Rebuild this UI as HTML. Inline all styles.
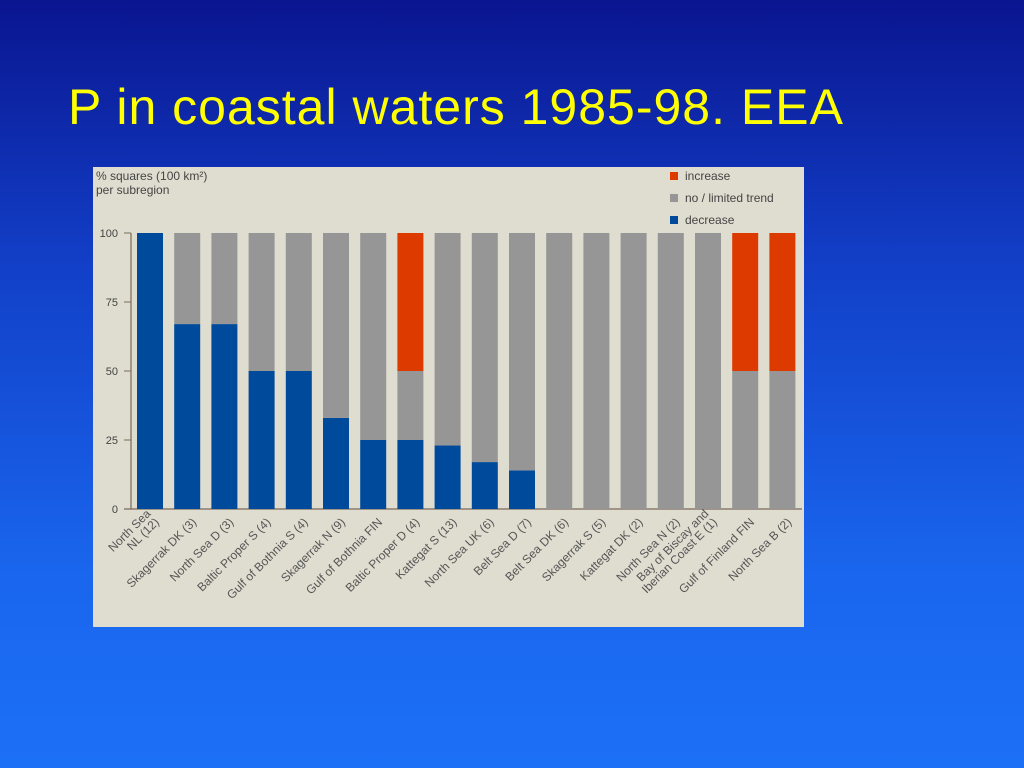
<!DOCTYPE html>
<html><head><meta charset="utf-8"><style>
html,body{margin:0;padding:0}
body{width:1024px;height:768px;overflow:hidden;background:linear-gradient(#0a1590 0%,#1240c8 35%,#1a66ee 75%,#1c70f6 100%);font-family:"Liberation Sans",sans-serif;position:relative}
#title{position:absolute;left:68px;top:78px;color:#ffff00;font-size:50px;white-space:nowrap;letter-spacing:1px}
</style></head><body>
<div id="title">P in coastal waters 1985-98. EEA</div>
<svg id="chart" width="1024" height="768" style="position:absolute;left:0;top:0">
<rect x="93" y="167" width="711" height="460" fill="#dfddd0"/>
<text x="96" y="180" font-size="12" fill="#444">% squares (100 km²)</text>
<text x="96" y="194" font-size="12" fill="#444">per subregion</text>
<g id="legend"></g>
<g id="axes"></g><g id="bars"></g><g id="labels"></g>
</svg>
<script>
const categories=["North Sea|NL (12)","Skagerrak DK (3)","North Sea D (3)","Baltic Proper S (4)","Gulf of Bothnia S (4)","Skagerrak N (9)","Gulf of Bothnia FIN","Baltic Proper D (4)","Kattegat S (13)","North Sea UK (6)","Belt Sea D (7)","Belt Sea DK (6)","Skagerrak S (5)","Kattegat DK (2)","North Sea N (2)","Bay of Biscay and|Iberian Coast E (1)","Gulf of Finland FIN","North Sea B (2)"];
const decrease=[100,67,67,50,50,33,25,25,23,17,14,0,0,0,0,0,0,0];
const noTrend=[0,33,33,50,50,67,75,25,77,83,86,100,100,100,100,100,50,50];
const increase=[0,0,0,0,0,0,0,50,0,0,0,0,0,0,0,0,50,50];
const yTicks=[0,25,50,75,100];
const seriesNames=["increase","no / limited trend","decrease"];
const colors={dec:"#004a9c",no:"#969696",inc:"#dd3a00"};
const NS="http://www.w3.org/2000/svg";
const y=v=>509-v*2.76;
const xc=i=>150+i*37.2;
function mk(tag,attrs,parent){const e=document.createElementNS(NS,tag);for(const k in attrs)e.setAttribute(k,attrs[k]);parent.appendChild(e);return e;}
const axes=document.getElementById('axes');
let ln=mk('line',{x1:131,y1:233,x2:131,y2:509,stroke:"#7a6a5a","stroke-width":1.2},axes);


let bl=mk('line',{x1:124,y1:509,x2:802,y2:509,stroke:"#7a6a5a","stroke-width":1.2},axes);


yTicks.forEach(t=>{
  const tk=mk('line',{x1:124,y1:y(t),x2:131,y2:y(t),stroke:"#7a6a5a"},axes);
  
  
  const tx=mk('text',{x:118,y:y(t)+4,"font-size":11,fill:"#444","text-anchor":"end"},axes);
  tx.textContent=t;
  
  
});
const bars=document.getElementById('bars');
categories.forEach((c,i)=>{
  const x=xc(i)-13;
  const segs=[[decrease[i],0,colors.dec,'decrease'],[noTrend[i],decrease[i],colors.no,'no-trend'],[increase[i],decrease[i]+noTrend[i],colors.inc,'increase']];
  segs.forEach(([v,base,col,nm])=>{
    if(v<=0)return;
    const r=mk('rect',{x:x,y:y(base+v),width:26,height:v*2.76,fill:col},bars);
    
    
  });
});
const labels=document.getElementById('labels');
categories.forEach((c,i)=>{
  const parts=c.split('|');
  const cx=xc(i)+7, cy=520;
  const t=mk('text',{transform:`translate(${cx},${cy}) rotate(-45)`,"font-size":12,fill:"#555","text-anchor":"end"},labels);
  
  
  parts.forEach((p,k)=>{
    const ts=mk('tspan',{x:0,y:(k-(parts.length-1))*12+4},t);
    ts.textContent=p;
  });
});
const legend=document.getElementById('legend');
const legCols=[colors.inc,colors.no,colors.dec];
seriesNames.forEach((n,k)=>{
  const yy=177+k*22;
  const s=mk('rect',{x:670,y:yy-5,width:8,height:8,fill:legCols[k]},legend);
  
  
  const t=mk('text',{x:685,y:yy+3,"font-size":12,fill:"#444"},legend);
  t.textContent=n;
  
  
});
</script>
</body></html>
